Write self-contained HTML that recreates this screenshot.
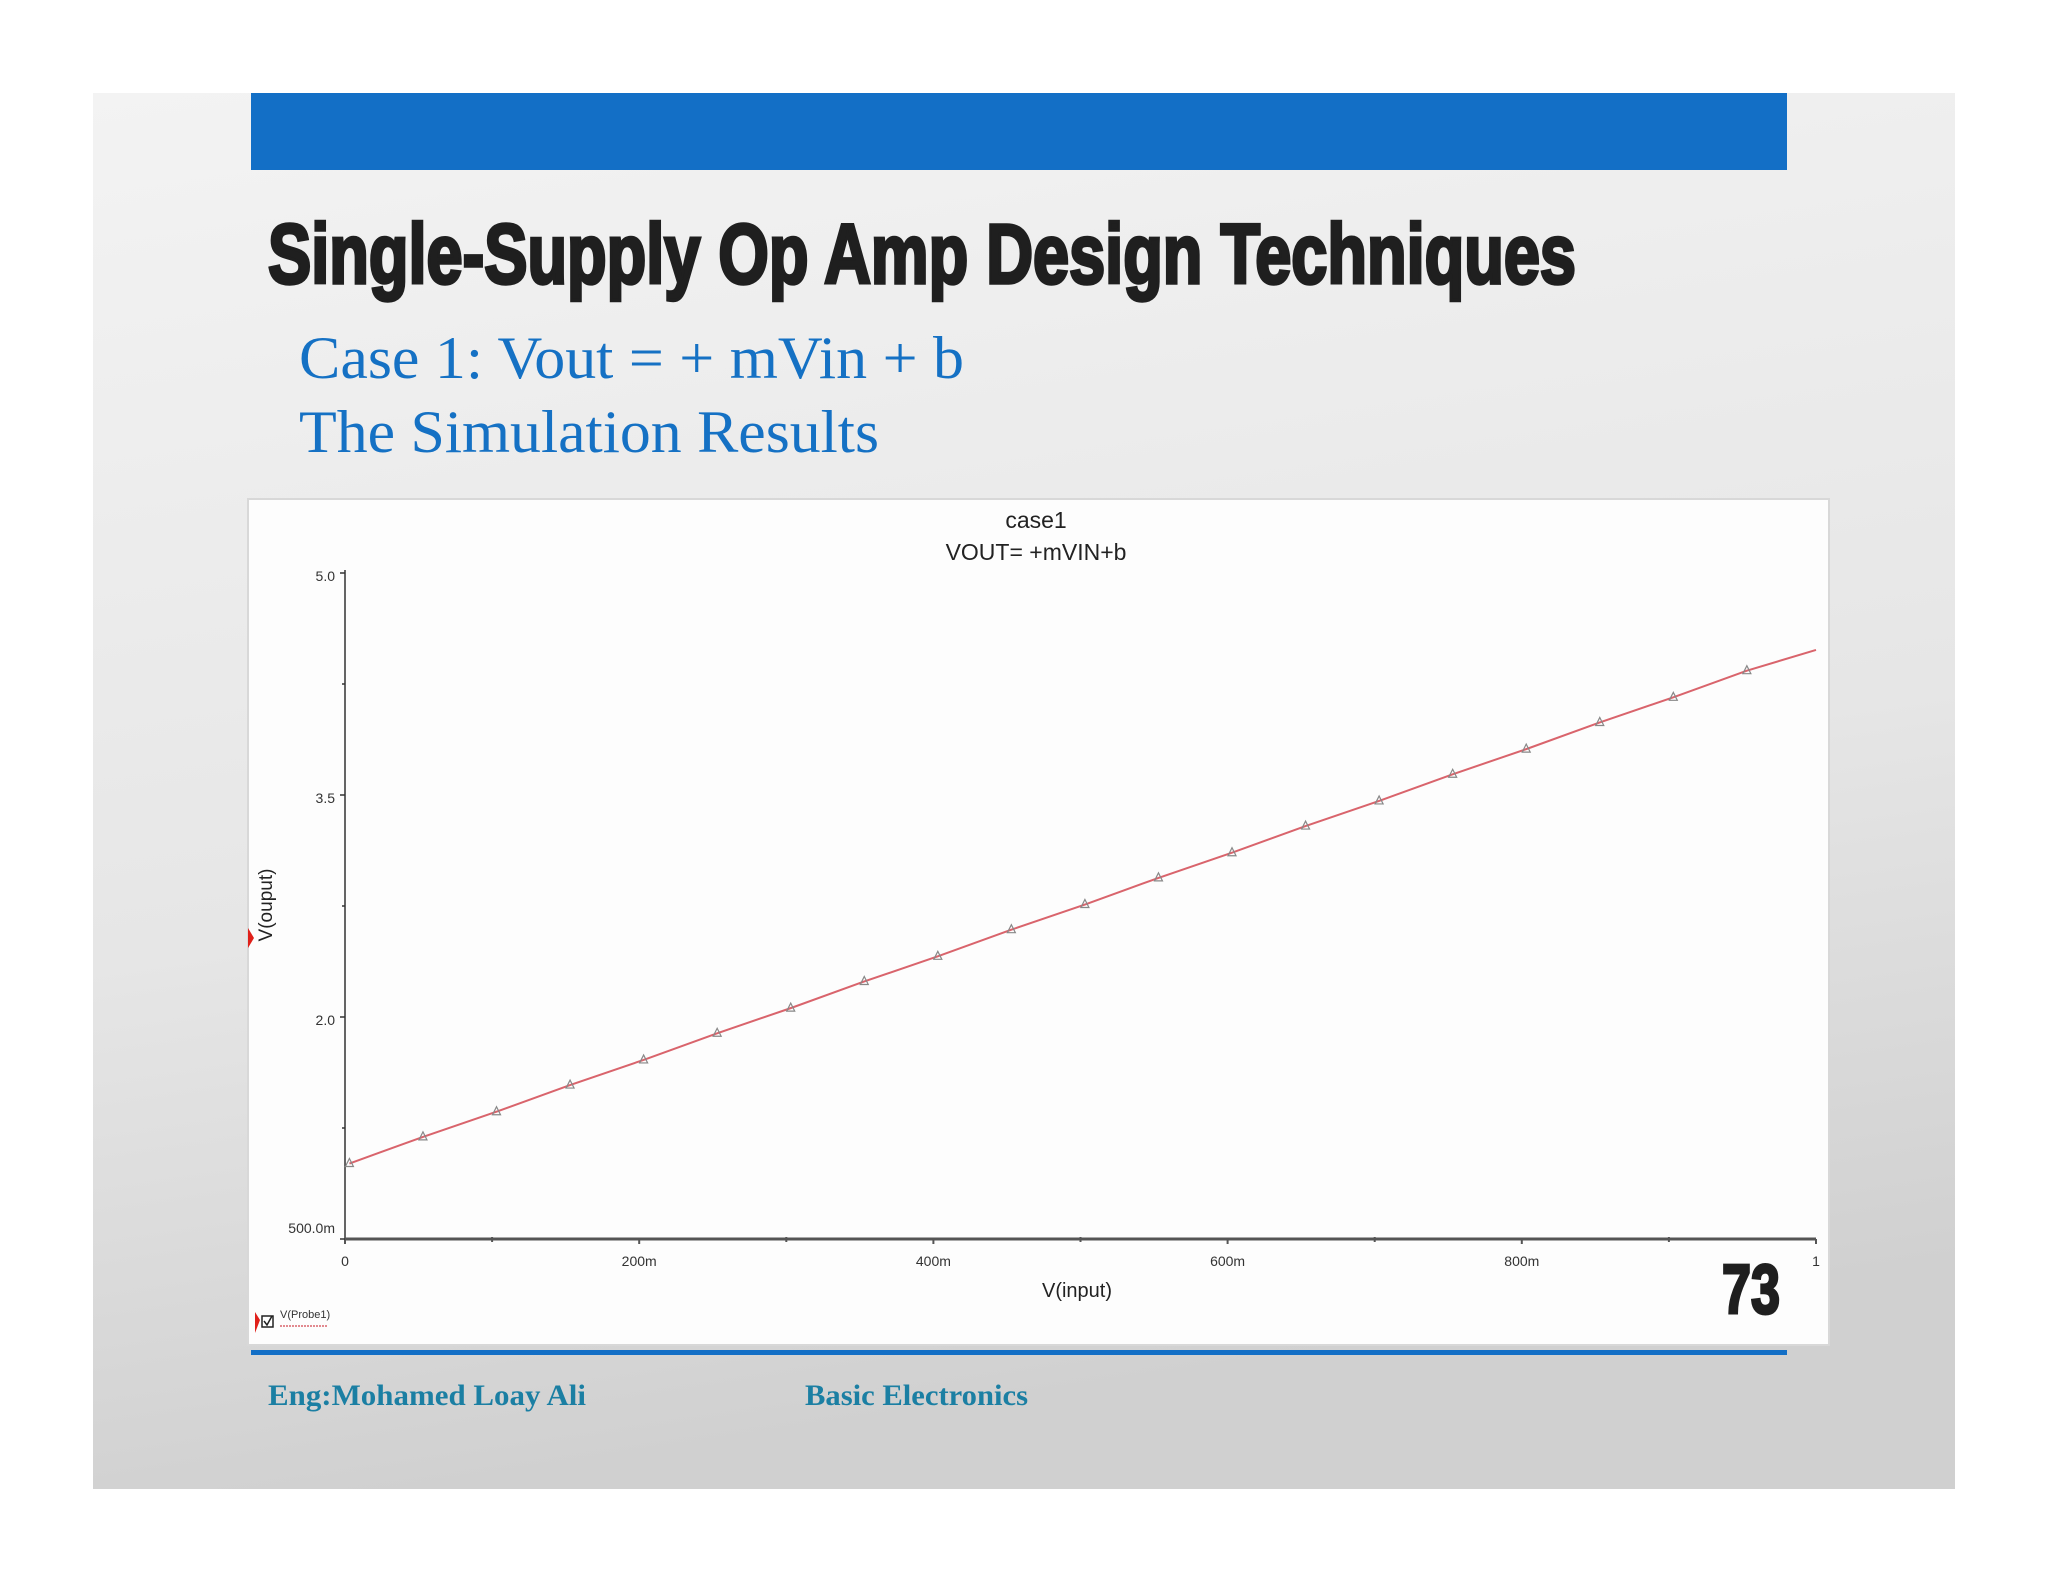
<!DOCTYPE html>
<html><head><meta charset="utf-8"><style>
html,body{margin:0;padding:0;background:#fff}
svg{display:block}
</style></head><body>
<svg id="page" width="2048" height="1582" viewBox="0 0 2048 1582" xmlns="http://www.w3.org/2000/svg">
<defs>
<linearGradient id="bg" x1="0" y1="0" x2="0.2" y2="1">
<stop offset="0" stop-color="#f3f3f3"/><stop offset="0.6" stop-color="#e6e6e6"/><stop offset="1" stop-color="#d0d0d0"/>
</linearGradient>
</defs>
<rect x="93" y="93" width="1862" height="1396" fill="url(#bg)"/>
<rect x="251" y="93" width="1536" height="77" fill="#136fc6"/>
<text x="268" y="283" textLength="1308" lengthAdjust="spacingAndGlyphs" font-family="Liberation Sans Narrow, Liberation Sans, sans-serif" font-weight="bold" font-size="84" fill="#1f1f1f" stroke="#1f1f1f" stroke-width="3.5">Single-Supply Op Amp Design Techniques</text>
<text x="299" y="378" textLength="665" lengthAdjust="spacingAndGlyphs" font-family="Liberation Serif, serif" font-size="60" fill="#1571c4">Case 1: Vout = + mVin + b</text>
<text x="299" y="452" textLength="580" lengthAdjust="spacingAndGlyphs" font-family="Liberation Serif, serif" font-size="60" fill="#1571c4">The Simulation Results</text>

<rect x="248" y="499" width="1581" height="846" fill="#fdfdfd" stroke="#d8d8d8" stroke-width="2"/>
<g id="chart"></g>

<text x="1722" y="1313" textLength="58" lengthAdjust="spacingAndGlyphs" font-family="Liberation Sans Narrow, Liberation Sans, sans-serif" font-weight="bold" font-size="70" fill="#1f1f1f" stroke="#1f1f1f" stroke-width="3">73</text>
<rect x="251" y="1350" width="1536" height="5" fill="#136fc6"/>
<text x="268" y="1405" textLength="318" lengthAdjust="spacingAndGlyphs" font-family="Liberation Serif, serif" font-weight="bold" font-size="30" fill="#1b7fa3">Eng:Mohamed Loay Ali</text>
<text x="805" y="1405" textLength="223" lengthAdjust="spacingAndGlyphs" font-family="Liberation Serif, serif" font-weight="bold" font-size="30" fill="#1b7fa3">Basic Electronics</text>
</svg>
<script>
const xVals=[0.003,0.053,0.103,0.153,0.203,0.253,0.303,0.353,0.403,0.453,0.503,0.553,0.603,0.653,0.703,0.753,0.803,0.853,0.903,0.953,1.0];
const yVals=[1.01,1.19,1.36,1.54,1.71,1.89,2.06,2.24,2.41,2.59,2.76,2.94,3.11,3.29,3.46,3.64,3.81,3.99,4.16,4.34,4.48];
const xTickVals=[0,0.2,0.4,0.6,0.8,1];
const xTickLabels=["0","200m","400m","600m","800m","1"];
const xMinorVals=[0.1,0.3,0.5,0.7,0.9];
const yTickVals=[0.5,2.0,3.5,5.0];
const yTickLabels=["500.0m","2.0","3.5","5.0"];
const yMinorVals=[1.25,2.75,4.25];

const NS="http://www.w3.org/2000/svg";
const g=document.getElementById('chart');
const X0=345,X1=1816,Y0=1239,Y1=573;
const sx=v=>X0+(X1-X0)*v;
const sy=v=>Y0-(Y0-Y1)*(v-0.5)/4.5;
function mk(tag,attrs,txt){const e=document.createElementNS(NS,tag);for(const k in attrs)e.setAttribute(k,attrs[k]);if(txt!==undefined)e.textContent=txt;g.appendChild(e);return e;}
const font="Liberation Sans, sans-serif";

let e;
e=mk('text',{x:1036,y:528,'text-anchor':'middle','font-family':font,'font-size':23,fill:'#222'},'case1');


e=mk('text',{x:1036,y:560,'text-anchor':'middle','font-family':font,'font-size':23,fill:'#222'},'VOUT= +mVIN+b');



e=mk('line',{x1:X0,y1:Y1-3,x2:X0,y2:Y0,stroke:'#333','stroke-width':1.5});


e=mk('line',{x1:X0,y1:Y0,x2:X1,y2:Y0,stroke:'#555','stroke-width':3});



xTickVals.forEach((v,i)=>{
  e=mk('line',{x1:sx(v),y1:Y0,x2:sx(v),y2:Y0+5,stroke:'#555','stroke-width':2});
  
  
  e=mk('text',{x:sx(v),y:Y0+27,'text-anchor':'middle','font-family':font,'font-size':14,fill:'#333'},xTickLabels[i]);
  
  
});
xMinorVals.forEach(v=>{
  e=mk('line',{x1:sx(v),y1:Y0-2,x2:sx(v),y2:Y0+3,stroke:'#555','stroke-width':2});
  
  
});
yTickVals.forEach((v,i)=>{
  e=mk('line',{x1:X0-5,y1:sy(v),x2:X0,y2:sy(v),stroke:'#333','stroke-width':1.5});
  
  
  e=mk('text',{x:X0-10,y:sy(v)+(i===0?-6:8),'text-anchor':'end','font-family':font,'font-size':14,fill:'#333'},yTickLabels[i]);
  
  
});
yMinorVals.forEach(v=>{
  e=mk('line',{x1:X0-3,y1:sy(v),x2:X0,y2:sy(v),stroke:'#333','stroke-width':1.5});
  
  
});
e=mk('text',{x:1077,y:1297,'text-anchor':'middle','font-family':font,'font-size':20,fill:'#222'},'V(input)');


e=mk('text',{x:0,y:0,transform:'translate(272,905) rotate(-90)','text-anchor':'middle','font-family':font,'font-size':19,fill:'#222'},'V(ouput)');


e=mk('polygon',{points:'248,928 254,938 248,948',fill:'#e0201a'});



const pts=xVals.map((v,i)=>sx(v)+','+sy(yVals[i])).join(' ');
e=mk('polyline',{points:pts,fill:'none',stroke:'#d9646c','stroke-width':2});


xVals.forEach((v,i)=>{
  if(i===xVals.length-1)return;
  const cx=sx(v),cy=sy(yVals[i]);
  e=mk('polygon',{points:`${cx-4},${cy+3} ${cx+4},${cy+3} ${cx},${cy-5}`,fill:'none',stroke:'#888','stroke-width':1.2});
  
  
});

e=mk('rect',{x:262,y:1316,width:11,height:11,fill:'#fff',stroke:'#222','stroke-width':1.5});


e=mk('polyline',{points:'264,1321 267,1325 272,1316',fill:'none',stroke:'#222','stroke-width':1.5});


e=mk('polygon',{points:'255,1312 260,1320 255,1333',fill:'#e0201a'});


e=mk('text',{x:280,y:1318,'font-family':font,'font-size':11,fill:'#333'},'V(Probe1)');


e=mk('line',{x1:280,y1:1326,x2:328,y2:1326,stroke:'#d9646c','stroke-width':1.5,'stroke-dasharray':'2,1'});


</script>
</body></html>
